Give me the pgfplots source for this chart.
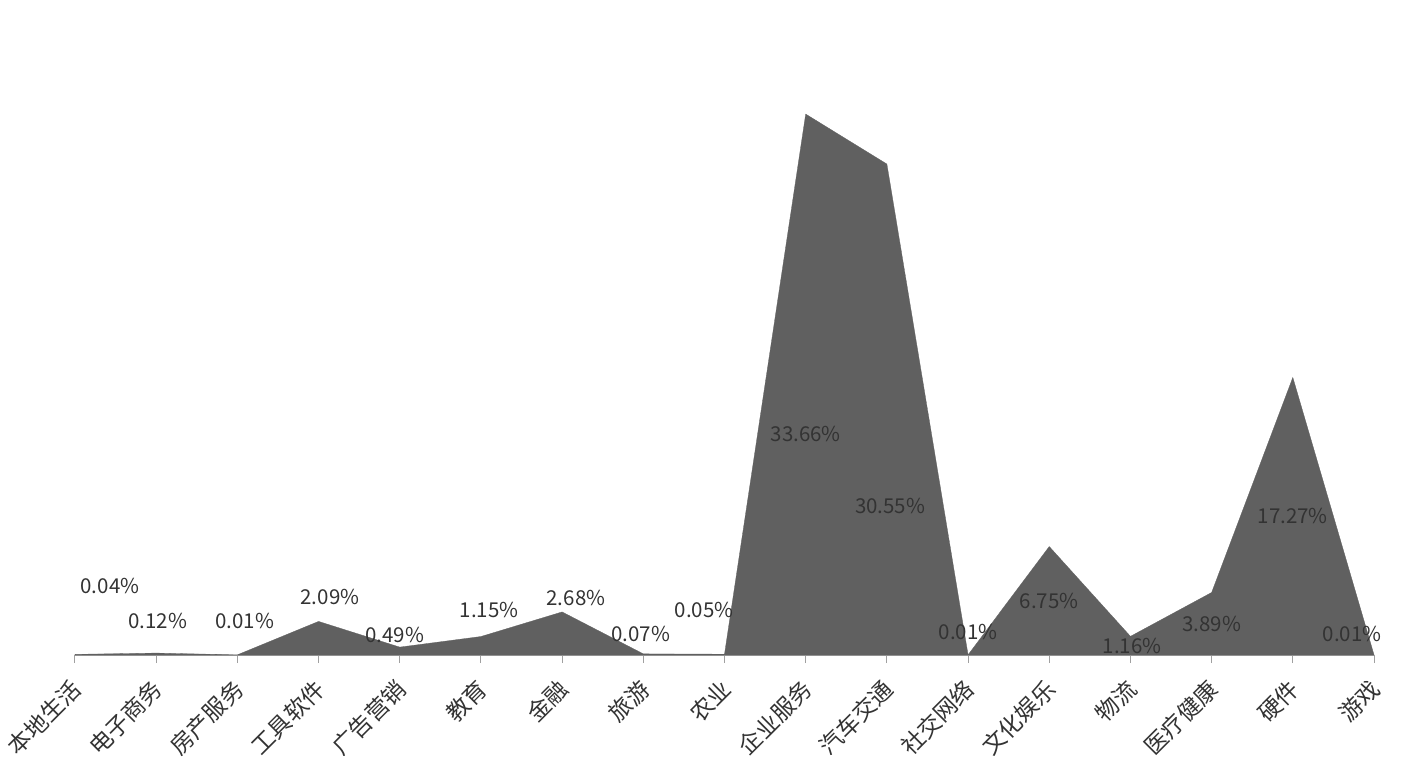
\documentclass[border=0pt]{standalone}
\usepackage{fontspec}
\setmainfont{Noto Sans CJK SC}
\usepackage{pgfplots}
\pgfplotsset{compat=1.18}
\definecolor{areac}{HTML}{606060}
\definecolor{txtc}{HTML}{333333}
\definecolor{axc}{HTML}{A0A0A0}
\begin{document}
\begin{tikzpicture}
\begin{axis}[
  scale only axis,
  width=1299pt, height=642.8pt,
  xmin=0, xmax=16, ymin=0, ymax=40,
  axis x line*=bottom, axis y line=none,
  x axis line style={draw=axc, line width=1pt},
  xtick={0,...,16},
  xticklabels={本地生活,电子商务,房产服务,工具软件,广告营销,教育,金融,旅游,农业,企业服务,汽车交通,社交网络,文化娱乐,物流,医疗健康,硬件,游戏},
  xticklabel style={xshift=2pt, yshift=-22pt, rotate=45, anchor=east, font=\fontsize{23}{23}\selectfont, text=txtc, inner sep=0pt},
  tick align=outside,
  major tick length=8pt,
  xtick style={draw=axc, line width=1pt},
  ytick=\empty,
  clip=false,
]
\addplot[fill=areac, draw=areac, line width=0.3pt] coordinates {
(0,0.04) (1,0.12) (2,0.01) (3,2.09) (4,0.49) (5,1.15) (6,2.68) (7,0.07) (8,0.05)
(9,33.66) (10,30.55) (11,0.01) (12,6.75) (13,1.16) (14,3.89) (15,17.27) (16,0.01)
} \closedcycle;
\begin{scope}[every node/.style={font=\fontsize{20.5}{20.5}\selectfont, text=txtc, inner sep=0pt}]
\node at (axis cs:0.43,4.29) {0.04\%};
\node at (axis cs:1.02,2.12) {0.12\%};
\node at (axis cs:2.09,2.12) {0.01\%};
\node at (axis cs:3.14,3.61) {2.09\%};
\node at (axis cs:3.94,1.24) {0.49\%};
\node at (axis cs:5.10,2.80) {1.15\%};
\node at (axis cs:6.17,3.55) {2.68\%};
\node at (axis cs:6.97,1.31) {0.07\%};
\node at (axis cs:7.75,2.80) {0.05\%};
\node at (axis cs:9.00,13.75) {33.66\%};
\node at (axis cs:10.04,9.27) {30.55\%};
\node at (axis cs:11.00,1.43) {0.01\%};
\node at (axis cs:12.00,3.36) {6.75\%};
\node at (axis cs:13.02,0.56) {1.16\%};
\node at (axis cs:14.00,1.93) {3.89\%};
\node at (axis cs:15.00,8.65) {17.27\%};
\node at (axis cs:15.73,1.31) {0.01\%};
\end{scope}
\end{axis}
\pgfresetboundingbox
\path (current axis.south west) ++(-75pt,-113pt) rectangle ++(1418pt,768pt);
\end{tikzpicture}
\end{document}
